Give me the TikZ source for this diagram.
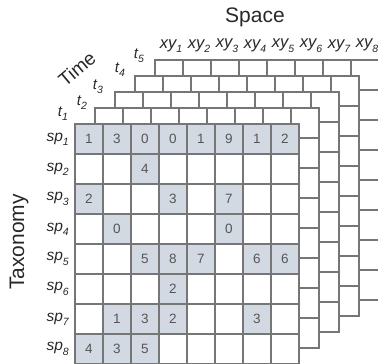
\documentclass[tikz,border=0pt]{standalone}
\usepackage{fontspec}
\setmainfont{Liberation Sans}
\definecolor{gridgray}{RGB}{118,118,118}
\definecolor{cellfill}{RGB}{211,217,227}
\definecolor{txt}{RGB}{40,40,40}
\definecolor{numc}{RGB}{85,85,85}
\newcommand{\lsub}[1]{\raisebox{-0.28em}{\fontsize{10.5}{10.5}\selectfont #1}}
\begin{document}
\begin{tikzpicture}[x=1pt,y=-1pt,
  gridline/.style={draw=gridgray,line width=1.1pt,line cap=rect},
  num/.style={font=\fontsize{13.5}{13.5}\selectfont, text=numc, inner sep=0pt},
  splabel/.style={font=\fontsize{15.5}{15.5}\selectfont\itshape, text=txt, inner sep=0pt, anchor=east},
  xylabel/.style={font=\fontsize{16.5}{16.5}\selectfont\itshape, text=txt, inner sep=0pt},
  tlabel/.style={font=\fontsize{15}{15}\selectfont\itshape, text=txt, inner sep=0pt},
  axislabel/.style={font=\fontsize{21}{21}\selectfont, text=txt, inner sep=0pt}]
\useasboundingbox (0,0) rectangle (378,364);
% back layers t5 .. t2
\foreach \k in {4,3,2,1}{
  \begin{scope}[shift={({75+20*\k},{124-16*\k})}]
    \fill[white] (0,0) rectangle (224,240);
    \foreach \i in {0,...,8} \draw[gridline] (28*\i,0) -- (28*\i,240);
    \foreach \j in {0,...,8} \draw[gridline] (0,30*\j) -- (224,30*\j);
  \end{scope}
}
% front layer t1
\begin{scope}[shift={(75,124)}]
  \fill[white] (0,0) rectangle (224,240);
  \foreach \r/\c/\v in {1/1/1,1/2/3,1/3/0,1/4/0,1/5/1,1/6/9,1/7/1,1/8/2,
      2/3/4,3/1/2,3/4/3,3/6/7,4/2/0,4/6/0,
      5/3/5,5/4/8,5/5/7,5/7/6,5/8/6,6/4/2,
      7/2/1,7/3/3,7/4/2,7/7/3,8/1/4,8/2/3,8/3/5}{
    \fill[cellfill] ({28*(\c-1)},{30*(\r-1)}) rectangle ++(28,30);
    \node[num] (v\r\c) at ({28*\c-14},{30*\r-15}) {\v};
  }
  \foreach \i in {0,...,8} \draw[gridline] (28*\i,0) -- (28*\i,240);
  \foreach \j in {0,...,8} \draw[gridline] (0,30*\j) -- (224,30*\j);
\end{scope}
% row labels
\foreach \r in {1,...,8}
  \node[splabel] (sp\r) at (69,{124+30*\r-15}) {sp\lsub{\r}};
% column labels
\foreach \i in {1,...,8}
  \node[xylabel] (xy\i) at ({171+28*(\i-1)},46) {xy\lsub{\i}};
% time labels
\node[tlabel] (t1) at (63,114) {t\lsub{1}};
\node[tlabel] (t2) at (82,103) {t\lsub{2}};
\node[tlabel] (t3) at (98,87) {t\lsub{3}};
\node[tlabel] (t4) at (120,70) {t\lsub{4}};
\node[tlabel] (t5) at (139,56) {t\lsub{5}};
% axis labels
\node[axislabel] (space) at (255,17) {Space};
\node[axislabel, font=\fontsize{19}{19}\selectfont, rotate=40] (time) at (77,69) {Time};
\node[axislabel, rotate=90] (taxonomy) at (19,242) {Taxonomy};
\end{tikzpicture}
\end{document}
